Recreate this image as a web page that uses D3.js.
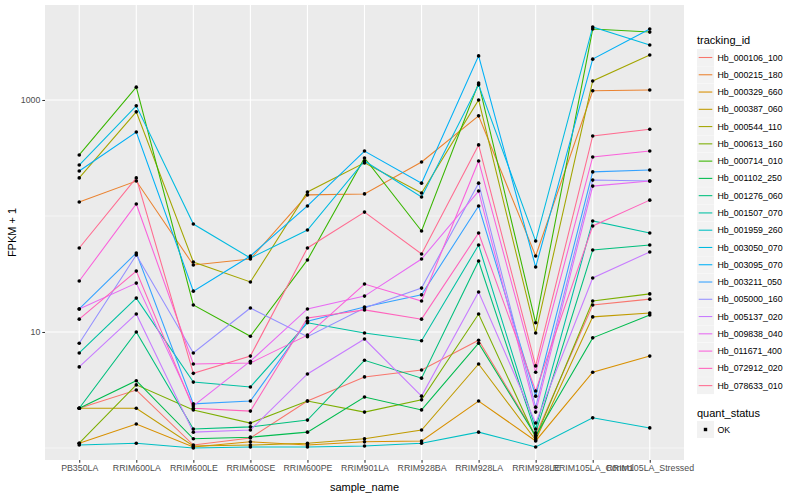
<!DOCTYPE html>
<html>
<head>
<meta charset="utf-8">
<script src="https://cdn.jsdelivr.net/npm/d3@7"></script>
<style>
  body { margin: 0; background: #fff; }
  text { font-family: "Liberation Sans", Arial, sans-serif; }
</style>
</head>
<body>
<div id="chart"></div>
<script>
// samples on the x axis
const samples = ['PB350LA', 'RRIM600LA', 'RRIM600LE', 'RRIM600SE', 'RRIM600PE', 'RRIM901LA',
    'RRIM928BA', 'RRIM928LA', 'RRIM928LE', 'RRIM105LA_Control', 'RRIM105LA_Stressed'];

const trackingIds = ['Hb_000106_100', 'Hb_000215_180', 'Hb_000329_660', 'Hb_000387_060',
    'Hb_000544_110', 'Hb_000613_160', 'Hb_000714_010', 'Hb_001102_250', 'Hb_001276_060',
    'Hb_001507_070', 'Hb_001959_260', 'Hb_003050_070', 'Hb_003095_070', 'Hb_003211_050',
    'Hb_005000_160', 'Hb_005137_020', 'Hb_009838_040', 'Hb_011671_400', 'Hb_072912_020',
    'Hb_078633_010'];

// FPKM + 1, one row per tracking id, in sample order
const fpkm = [
    [2.2, 3.16, 1.06, 1.22, 2.54, 4.1, 4.7, 8.5, 1.29, 17.1, 19.2],        // 000106
    [132, 200, 37.8, 42.6, 152, 155, 292, 730, 45.2, 1200, 1220],          // 000215
    [1.10, 1.61, 1.02, 1.13, 1.06, 1.13, 1.15, 2.54, 1.15, 4.5, 6.2],      // 000329
    [2.2, 2.2, 1.04, 1.06, 1.10, 1.20, 1.43, 5.3, 1.17, 13.5, 14.6],       // 000387
    [213, 790, 40.1, 27, 161, 287, 158, 1000, 9.8, 1460, 2440],            // 000544
    [1.10, 3.5, 2.13, 1.64, 2.54, 2.04, 2.6, 14.3, 1.22, 18.5, 21.3],      // 000613
    [336, 1290, 17.1, 9.2, 41.8, 316, 74.2, 1400, 12.0, 4090, 3850],       // 000714
    [2.2, 3.8, 1.20, 1.24, 1.37, 2.75, 2.13, 8.0, 1.27, 8.9, 14.0],        // 001102
    [2.2, 10, 1.46, 1.52, 1.74, 5.7, 4.0, 40.9, 1.35, 50.9, 56.2],         // 001276
    [6.6, 19.6, 3.7, 3.36, 12.0, 9.8, 8.4, 56.2, 1.46, 90.6, 71.3],        // 001507
    [1.06, 1.10, 1.0, 1.02, 1.02, 1.04, 1.10, 1.37, 1.02, 1.82, 1.49],     // 001959
    [275, 890, 85.3, 43.4, 75.7, 298, 146, 1350, 60.8, 4260, 2980],        // 003050
    [244, 530, 22.5, 45.2, 122, 363, 192, 2400, 36.3, 2250, 4090],         // 003095
    [15.8, 48, 2.4, 2.54, 12.4, 16.4, 20.9, 122, 2.8, 240, 249],           // 003211
    [8.0, 46.1, 6.6, 16.1, 9.1, 16.1, 23.9, 192, 2.25, 204, 200],          // 005000
    [5.0, 14.3, 1.37, 1.43, 4.35, 8.7, 2.8, 22.1, 1.64, 29.2, 49],         // 005137
    [15.8, 26.4, 2.3, 5.6, 15.8, 20.4, 42.6, 164, 2.04, 181, 200],         // 009838
    [27.5, 127, 5.3, 5.4, 9.4, 25.9, 18.5, 298, 4.5, 323, 363],            // 011671
    [12.9, 33.5, 2.2, 2.08, 13.2, 15.5, 12.9, 71.3, 3.1, 82, 137],         // 072912
    [53, 213, 4.4, 6.2, 53, 108, 47, 410, 5.1, 490, 560]                   // 078633
];

const yMajor = [10, 1000];
const yMinor = [1, 100];
const statusLevels = ['OK'];

// ggplot default hue palette for 20 levels
const palette = ['#F8766D', '#EA8331', '#D89000', '#C09B00', '#A3A500', '#7CAE00', '#39B600',
    '#00BB4E', '#00BF7D', '#00C1A3', '#00BFC4', '#00BAE0', '#00B0F6', '#35A2FF', '#9590FF',
    '#C77CFF', '#E76BF3', '#FA62DB', '#FF62BC', '#FF6C91'];

const width = 800, height = 500;
const panel = { left: 45, right: 684, top: 5, bottom: 460 };

const svg = d3.select('#chart')
    .append('svg')
    .attr('width', width)
    .attr('height', height);

const x = d3.scalePoint()
    .domain(samples)
    .range([panel.left, panel.right])
    .padding(0.6);

const y = d3.scaleLog()
    .domain([0.788, 6590])
    .range([panel.bottom, panel.top]);

const color = d3.scaleOrdinal()
    .domain(trackingIds)
    .range(palette);

// panel background + grid
svg.append('rect')
    .attr('x', panel.left)
    .attr('y', panel.top)
    .attr('width', panel.right - panel.left)
    .attr('height', panel.bottom - panel.top)
    .attr('fill', '#EBEBEB');

const grid = svg.append('g');
grid.selectAll('.minor')
    .data(yMinor)
    .enter()
    .append('line')
    .attr('x1', panel.left).attr('x2', panel.right)
    .attr('y1', d => y(d)).attr('y2', d => y(d))
    .attr('stroke', '#fff').attr('stroke-width', 0.55);
grid.selectAll('.major')
    .data(yMajor)
    .enter()
    .append('line')
    .attr('x1', panel.left).attr('x2', panel.right)
    .attr('y1', d => y(d)).attr('y2', d => y(d))
    .attr('stroke', '#fff').attr('stroke-width', 1.1);
grid.selectAll('.vert')
    .data(samples)
    .enter()
    .append('line')
    .attr('x1', d => x(d)).attr('x2', d => x(d))
    .attr('y1', panel.top).attr('y2', panel.bottom)
    .attr('stroke', '#fff').attr('stroke-width', 1.1);

// series lines
const series = trackingIds.map((id, i) => ({
    id: id,
    values: samples.map((s, j) => ({ sample: s, value: fpkm[i][j] }))
}));

const line = d3.line()
    .x(d => x(d.sample))
    .y(d => y(d.value));

svg.append('g')
    .selectAll('path')
    .data(series)
    .enter()
    .append('path')
    .attr('d', d => line(d.values))
    .attr('fill', 'none')
    .attr('stroke', d => color(d.id))
    .attr('stroke-width', 1.07);

// points
svg.append('g')
    .selectAll('g')
    .data(series)
    .enter()
    .append('g')
    .selectAll('circle')
    .data(d => d.values)
    .enter()
    .append('circle')
    .attr('cx', d => x(d.sample))
    .attr('cy', d => y(d.value))
    .attr('r', 1.8)
    .attr('fill', '#000');

// axes
const xAxisG = svg.append('g')
    .attr('transform', 'translate(0,' + panel.bottom + ')')
    .call(d3.axisBottom(x).tickSize(2.7).tickPadding(2));
const yAxisG = svg.append('g')
    .attr('transform', 'translate(' + panel.left + ',0)')
    .call(d3.axisLeft(y).tickValues(yMajor).tickFormat(d3.format('d')).tickSize(2.7).tickPadding(2));

[xAxisG, yAxisG].forEach(g => {
    g.select('.domain').remove();
    g.selectAll('line').attr('stroke', '#333').attr('stroke-width', 1.07);
    g.selectAll('text')
        .attr('fill', '#4D4D4D')
        .style('font-size', '8.8px')
        .style('font-family', '"Liberation Sans", Arial, sans-serif');
});

svg.append('text')
    .attr('x', (panel.left + panel.right) / 2)
    .attr('y', 491)
    .attr('text-anchor', 'middle')
    .style('font-size', '11px')
    .text('sample_name');

svg.append('text')
    .attr('transform', 'translate(16,' + (panel.top + panel.bottom) / 2 + ') rotate(-90)')
    .attr('text-anchor', 'middle')
    .style('font-size', '11px')
    .text('FPKM + 1');

// legend: tracking_id
const legend = svg.append('g');
const keyH = 17.27, key0 = 49, keyX = 697;

legend.append('text')
    .attr('x', keyX)
    .attr('y', 44)
    .style('font-size', '11px')
    .text('tracking_id');

const keys = legend.selectAll('.key')
    .data(trackingIds)
    .enter()
    .append('g')
    .attr('transform', (d, i) => 'translate(' + keyX + ',' + (key0 + i * keyH) + ')');

keys.append('rect')
    .attr('width', 17).attr('height', 17)
    .attr('fill', '#F2F2F2');
keys.append('line')
    .attr('x1', 1.7).attr('x2', 15.3)
    .attr('y1', 8.5).attr('y2', 8.5)
    .attr('stroke', d => color(d))
    .attr('stroke-width', 1.07);
keys.append('text')
    .attr('x', 20.5)
    .attr('y', 8.5)
    .attr('dy', '0.35em')
    .style('font-size', '8.8px')
    .text(d => d);

// legend: quant_status
legend.append('text')
    .attr('x', keyX)
    .attr('y', 417)
    .style('font-size', '11px')
    .text('quant_status');

const sKeys = legend.selectAll('.skey')
    .data(statusLevels)
    .enter()
    .append('g')
    .attr('transform', (d, i) => 'translate(' + keyX + ',' + (421 + i * keyH) + ')');
sKeys.append('rect')
    .attr('width', 17).attr('height', 17)
    .attr('fill', '#F2F2F2');
sKeys.append('rect')
    .attr('x', 6.8).attr('y', 6.8)
    .attr('width', 3.4).attr('height', 3.4)
    .attr('fill', '#000');
sKeys.append('text')
    .attr('x', 20.5)
    .attr('y', 8.5)
    .attr('dy', '0.35em')
    .style('font-size', '8.8px')
    .text(d => d);
</script>
</body>
</html>
